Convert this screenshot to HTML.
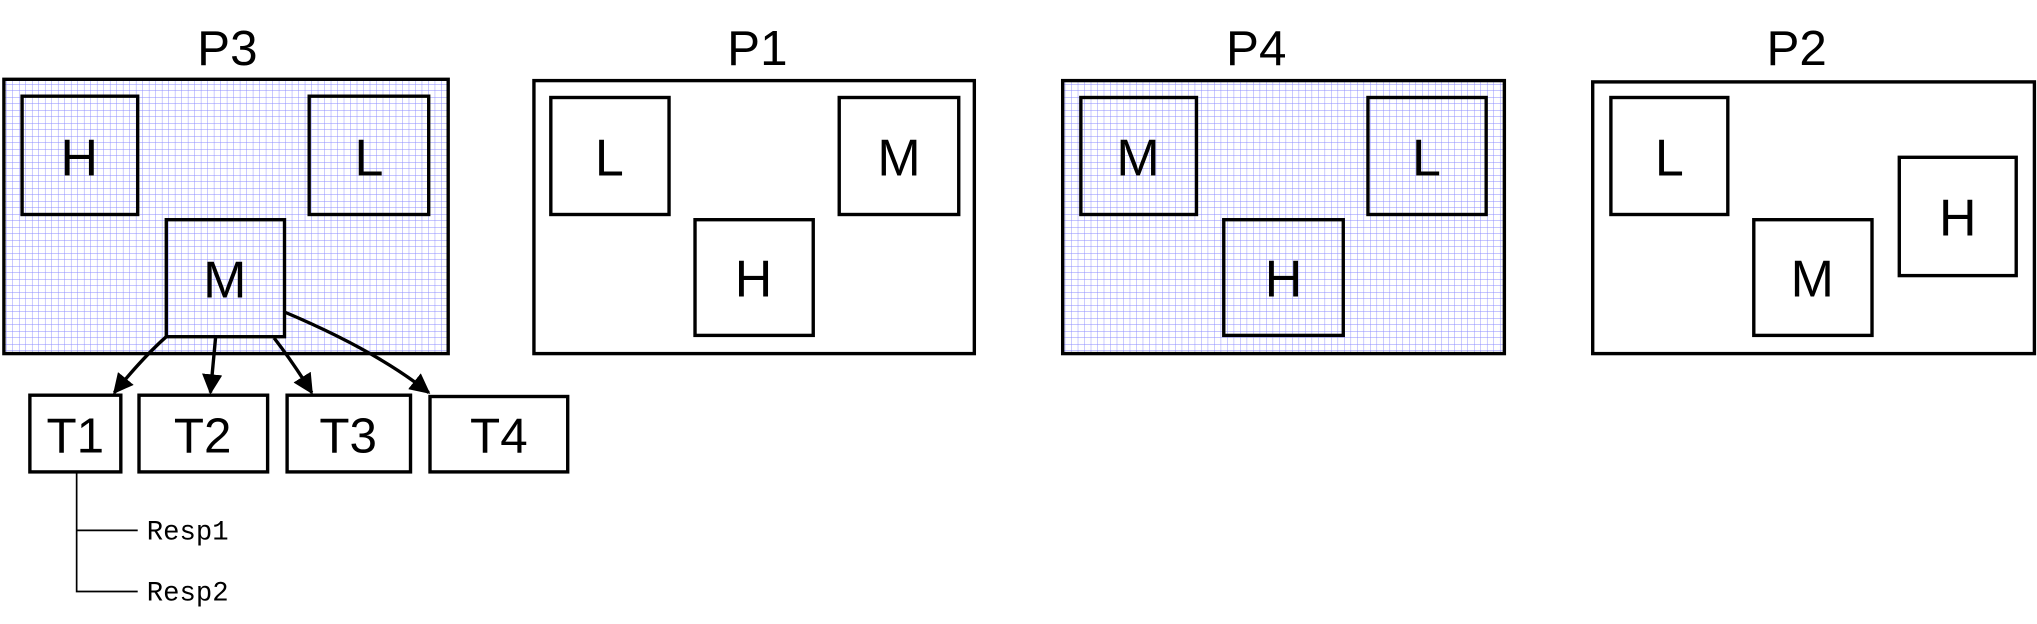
<!DOCTYPE html>
<html><head><meta charset="utf-8"><style>
html,body{margin:0;padding:0;background:#fff;}
svg{display:block;}
text{font-family:"Liberation Sans",sans-serif;}
</style></head><body>
<svg width="2037" height="624" viewBox="0 0 1568 480" preserveAspectRatio="none" xmlns="http://www.w3.org/2000/svg">
<defs>
<pattern id="grid" width="5" height="5" patternUnits="userSpaceOnUse">
<path d="M5 0V5M0 5H5" stroke="#8c8cff" stroke-width="0.7" fill="none"/>
</pattern>
<marker id="arr" viewBox="0 0 10 10" refX="9" refY="5" markerWidth="6" markerHeight="6" orient="auto"><path d="M0 0L10 5L0 10z" fill="#000"/></marker>
</defs>
<g stroke="#000" stroke-width="2.6" fill="none">
<g>
<rect x="3" y="61" width="342" height="211" fill="url(#grid)"/>
<rect x="17" y="74" width="89" height="91"/>
<rect x="238" y="74" width="92" height="91"/>
<rect x="128" y="169" width="91" height="90"/>
</g>
<g>
<rect x="411" y="62" width="339" height="210" fill="#fff"/>
<rect x="424" y="75" width="91" height="90"/>
<rect x="646" y="75" width="92" height="90"/>
<rect x="535" y="169" width="91" height="89"/>
</g>
<g>
<rect x="818" y="62" width="340" height="210" fill="url(#grid)"/>
<rect x="832" y="75" width="89" height="90"/>
<rect x="1053" y="75" width="91" height="90"/>
<rect x="942" y="169" width="92" height="89"/>
</g>
<g>
<rect x="1226" y="63" width="340" height="209" fill="#fff"/>
<rect x="1240" y="75" width="90" height="90"/>
<rect x="1350" y="169" width="91" height="89"/>
<rect x="1462" y="121" width="90" height="91"/>
</g>
<rect x="23" y="304" width="70" height="59"/>
<rect x="107" y="304" width="99" height="59"/>
<rect x="221" y="304" width="95" height="59"/>
<rect x="331" y="305" width="106" height="58"/>
<path d="M128 259 Q110 275 88 302" marker-end="url(#arr)"/>
<path d="M166 259 L162 302" marker-end="url(#arr)"/>
<path d="M211 260 Q225 278 240 302" marker-end="url(#arr)"/>
<path d="M219 240 Q290 270 330 302" marker-end="url(#arr)"/>
</g>
<g stroke="#000" stroke-width="1.3" fill="none">
<path d="M59 363V455H106M59 408H106"/>
</g>
<g font-size="40" text-anchor="middle" fill="#000">
<text x="175" y="50" font-size="38">P3</text>
<text x="583" y="50" font-size="38">P1</text>
<text x="967" y="50" font-size="38">P4</text>
<text x="1383" y="50" font-size="38">P2</text>
<text x="61" y="135">H</text><text x="284" y="135">L</text><text x="173" y="229">M</text>
<text x="469" y="135">L</text><text x="692" y="135">M</text><text x="580" y="228">H</text>
<text x="876" y="135">M</text><text x="1098" y="135">L</text><text x="988" y="228">H</text>
<text x="1285" y="135">L</text><text x="1395" y="228">M</text><text x="1507" y="181">H</text>
<text x="58" y="348" font-size="38">T1</text>
<text x="156" y="348" font-size="38">T2</text>
<text x="268" y="348" font-size="38">T3</text>
<text x="384" y="348" font-size="38">T4</text>
</g>
<g font-size="21" fill="#000">
<text x="113" y="415" style="font-family:'Liberation Mono',monospace">Resp1</text>
<text x="113" y="462" style="font-family:'Liberation Mono',monospace">Resp2</text>
</g>
</svg>
</body></html>
